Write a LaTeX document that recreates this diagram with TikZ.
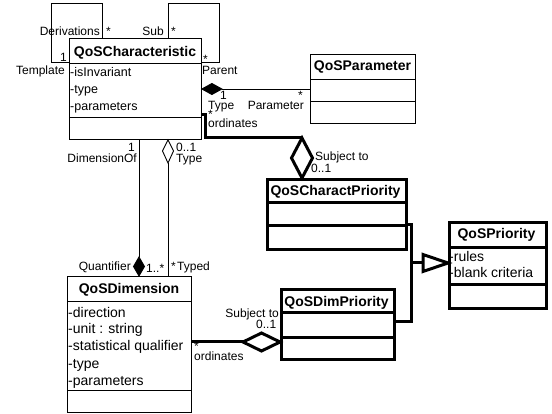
\documentclass[tikz,border=0pt]{standalone}
\usepackage{fontspec}
\setmainfont{Liberation Sans}
\usetikzlibrary{calc}
\begin{document}
\begin{tikzpicture}[x=1pt,y=-1pt,
 cls/.style={draw,line width=0.9pt,rectangle,anchor=north west,inner sep=0pt},
 tcls/.style={cls,line width=3pt},
 thin/.style={line width=0.9pt},
 thk/.style={line width=3pt},
 lbl/.style={inner sep=0pt,font=\fontsize{12}{12}\selectfont},
 ttl/.style={inner sep=0pt,anchor=base,font=\fontsize{14}{14}\selectfont\bfseries},
 attr/.style={inner sep=0pt,anchor=base west,font=\fontsize{14}{14}\selectfont},
 sattr/.style={attr,font=\fontsize{12.5}{12.5}\selectfont},
]
\useasboundingbox (0,0) rectangle (552,414);
% classes
\node[cls,minimum width=132pt,minimum height=101pt] (char) at (69,38) {};
\node[cls,minimum width=105pt,minimum height=69pt] (param) at (310,54) {};
\node[tcls,minimum width=139pt,minimum height=70pt] (cp) at (266,178) {};
\node[cls,minimum width=124pt,minimum height=136pt] (dim) at (67,276) {};
\node[tcls,minimum width=113pt,minimum height=70pt] (dp) at (280,288) {};
\node[tcls,minimum width=97pt,minimum height=86pt] (pri) at (448,221) {};
% section lines
\draw[thin] (char.west |- 0,63) -- (char.east |- 0,63);
\draw[thin] (char.west |- 0,117) -- (char.east |- 0,117);
\draw[thin] (param.west |- 0,79) -- (param.east |- 0,79);
\draw[thin] (param.west |- 0,101) -- (param.east |- 0,101);
\draw[thk] (cp.west |- 0,203) -- (cp.east |- 0,203);
\draw[thk] (cp.west |- 0,226) -- (cp.east |- 0,226);
\draw[thin] (dim.west |- 0,301) -- (dim.east |- 0,301);
\draw[thin] (dim.west |- 0,390) -- (dim.east |- 0,390);
\draw[thk] (dp.west |- 0,313) -- (dp.east |- 0,313);
\draw[thk] (dp.west |- 0,338) -- (dp.east |- 0,338);
\draw[thk] (pri.west |- 0,248) -- (pri.east |- 0,248);
\draw[thk] (pri.west |- 0,285) -- (pri.east |- 0,285);
% titles
\node[ttl] (charT) at (135,57) {QoSCharacteristic};
\node[ttl] (paramT) at (362.5,71) {QoSParameter};
\node[ttl] (cpT) at (335.5,196) {QoSCharactPriority};
\node[ttl] (dimT) at (129,294) {QoSDimension};
\node[ttl] (dpT) at (336.5,307) {QoSDimPriority};
\node[ttl] (priT) at (496.5,239) {QoSPriority};
% attributes
\node[sattr] (ca1) at (70,77) {-isInvariant};
\node[sattr] (ca2) at (70,94) {-type};
\node[sattr] (ca3) at (70,111) {-parameters};
\node[attr] (da1) at (68,317) {-direction};
\node[attr] (da2) at (68,334) {-unit : string};
\node[attr] (da3) at (68,351) {-statistical qualifier};
\node[attr] (da4) at (68,368) {-type};
\node[attr] (da5) at (68,385) {-parameters};
\node[attr] (pa1) at (449,262) {-rules};
\node[attr] (pa2) at (449,278) {-blank criteria};
% self loops
\draw[thin] (char.west |- 0,62) -- (51,62) -- (51,3) -- (102,3) -- (char.north -| 102,0);
\draw[thin] (char.north -| 168,0) -- (168,3) -- (219,3) -- (219,62) -- (char.east |- 0,62);
% composition to parameter
\coordinate (pd) at ($(char.east |- 0,89)+(20,0)$);
\draw[thin,fill=black] (char.east |- 0,89) -- ++(10,-5.5) -- (pd) -- ++(-10,5.5) -- cycle;
\draw[thin] (pd) -- (param.west |- 0,89);
% aggregation char -> charact priority
\coordinate (cd) at (302,138);
\draw[thk,fill=white] (cp.north -| 302,0) -- (312.5,158) -- (cd) -- (291.5,158) -- cycle;
\draw[thk] (char.east |- 0,115) -- (205,115) -- (205,138) -- (cd);
% dimension links
\coordinate (qd) at (139,257);
\draw[thin,fill=black] (dim.north -| 139,0) -- (144.5,266.5) -- (qd) -- (133.5,266.5) -- cycle;
\draw[thin] (char.south -| 139,0) -- (qd);
\coordinate (td) at (168,163);
\draw[thin,fill=white] (char.south -| 168,0) -- (173.5,151) -- (td) -- (162.5,151) -- cycle;
\draw[thin] (td) -- (dim.north -| 168,0);
% aggregation dim -> dim priority
\coordinate (dd) at (243,342);
\draw[thk,fill=white] (dp.west |- 0,342) -- (261.5,333) -- (dd) -- (261.5,351) -- cycle;
\draw[thk] (dim.east |- 0,342) -- (dd);
% generalization
\coordinate (gb) at (423,263);
\draw[thk] (cp.east |- 0,225) -- (411,225) -- (411,322) -- (dp.east |- 0,322);
\draw[thk] (411,263) -- (gb);
\draw[thk,fill=white] (pri.west |- 0,263) -- (423,254.5) -- (423,271.5) -- cycle;
% labels
\node[lbl,anchor=base east] (l1) at (100,36) {Derivations};
\node[lbl,anchor=base west] (l2) at (106,36) {*};
\node[lbl,anchor=base east] (l3) at (164,36) {Sub};
\node[lbl,anchor=base west] (l4) at (171,36) {*};
\node[lbl,anchor=base east] (l5) at (67,62) {1};
\node[lbl,anchor=base east] (l6) at (65,75) {Template};
\node[lbl,anchor=base west] (l7) at (203,64) {*};
\node[lbl,anchor=base west] (l8) at (202,75) {Parent};
\node[lbl,anchor=base west] (l9) at (220,100) {1};
\node[lbl,anchor=base west] (l10) at (208,110) {Type};
\node[lbl,anchor=base east] (l11) at (304,110) {Parameter};
\node[lbl,anchor=base west] (l12) at (298,100) {*};
\node[lbl,anchor=base west] (l13) at (208,119) {*};
\node[lbl,anchor=base west] (l14) at (208,128) {ordinates};
\node[lbl,anchor=base west] (l15) at (315,161) {Subject to};
\node[lbl,anchor=base west] (l16) at (311,173) {0..1};
\node[lbl,anchor=base east] (l17) at (135,152) {1};
\node[lbl,anchor=base east] (l18) at (137,163) {DimensionOf};
\node[lbl,anchor=base west] (l19) at (176,152) {0..1};
\node[lbl,anchor=base west] (l20) at (176,163) {Type};
\node[lbl,anchor=base east] (l21) at (131,271) {Quantifier};
\node[lbl,anchor=base west] (l22) at (146,273) {1..*};
\node[lbl,anchor=base west] (l23) at (171,271) {*};
\node[lbl,anchor=base west] (l24) at (177,271) {Typed};
\node[lbl,anchor=base east] (l25) at (279,317) {Subject to};
\node[lbl,anchor=base west] (l26) at (256,328) {0..1};
\node[lbl,anchor=base west] (l27) at (194,351) {*};
\node[lbl,anchor=base west] (l28) at (194,360) {ordinates};
\end{tikzpicture}
\end{document}
